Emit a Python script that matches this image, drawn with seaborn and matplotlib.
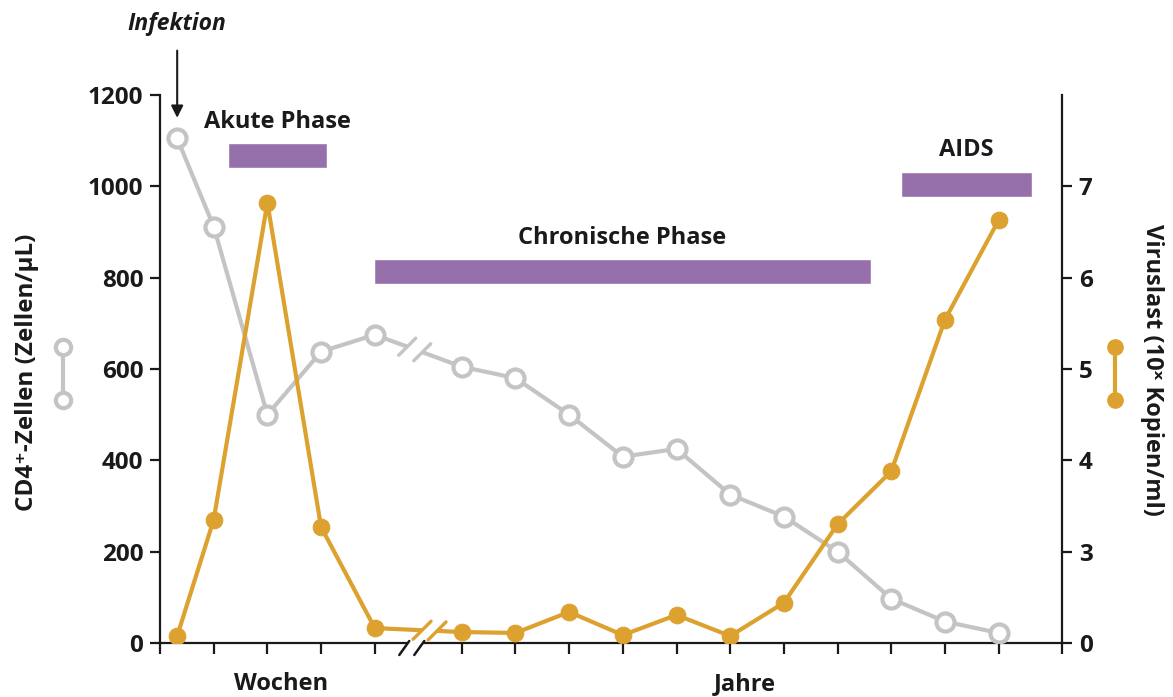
import matplotlib
matplotlib.use('Agg')
import matplotlib.pyplot as plt
import numpy as np
import pandas as pd
import seaborn as sns
from matplotlib.lines import Line2D
from matplotlib.transforms import IdentityTransform

# x slots: weeks (left of the break) and years (right of the break)
week_pos = [0.32, 1, 2, 3, 4]
year_pos = [5.62, 6.62, 7.62, 8.62, 9.62, 10.62, 11.62, 12.62, 13.62, 14.62, 15.62]
week_ticks = [0, 1, 2, 3, 4]
x_end = 16.8

cd4_weeks = [1105, 912, 500, 638, 675]
cd4_years = [605, 580, 500, 408, 425, 325, 277, 200, 97, 47, 22]

virus_weeks = [0.23, 3.35, 6.82, 3.27, 0.49]
virus_years = [0.36, 0.33, 1.02, 0.26, 0.92, 0.23, 1.32, 3.30, 3.88, 5.54, 6.63]

phase_names = ['Akute Phase', 'Chronische Phase', 'AIDS']
phase_start = [1.27, 3.99, 13.8]
phase_end = [3.11, 13.24, 16.24]
phase_level = [1067, 813, 1004]  # centre of bar, CD4 units

left_ticks = [0, 200, 400, 600, 800, 1000, 1200]
right_ticks = [0, 3, 4, 5, 6, 7]

gray = '#c4c4c4'
yellow = '#dca12e'
purple = '#9670aa'
ink = '#1a1a1a'

sns.set_theme(style='white')
plt.rcParams['font.family'] = ['Open Sans', 'DejaVu Sans']
plt.rcParams['font.weight'] = 'bold'

W, H = 1173, 697
fig = plt.figure(figsize=(W / 100, H / 100), dpi=100)
ax = fig.add_axes([160 / W, 1 - 643 / H, (1062 - 160) / W, (643 - 95) / H])
ax2 = ax.twinx()

df = pd.DataFrame({
    'x': week_pos + year_pos,
    'cd4': cd4_weeks + cd4_years,
    'virus': virus_weeks + virus_years,
})


# right axis: 0..3 squeezed into one step, then linear
def fwd(v):
    v = np.asarray(v, dtype=float)
    return np.where(v < 3, v / 3, v - 2)


def inv(t):
    t = np.asarray(t, dtype=float)
    return np.where(t < 1, t * 3, t + 2)


ax2.set_yscale('function', functions=(fwd, inv))

sns.lineplot(data=df, x='x', y='cd4', ax=ax, color=gray, linewidth=3,
             marker='o', markersize=13, markerfacecolor='white',
             markeredgecolor=gray, markeredgewidth=3, zorder=3)
sns.lineplot(data=df, x='x', y='virus', ax=ax2, color=yellow, linewidth=3,
             marker='o', markersize=12, markerfacecolor=yellow,
             markeredgecolor=yellow, zorder=3)

# phase bars
ax.barh(phase_level, np.array(phase_end) - np.array(phase_start), left=phase_start,
        height=55, color=purple, zorder=2)
for name, s, e, lvl in zip(phase_names, phase_start, phase_end, phase_level):
    ax.annotate(name, xy=((s + e) / 2, lvl + 27), xytext=(0, 7), textcoords='offset points',
                ha='center', va='bottom', fontsize=17, fontweight='bold', color=ink)

ax.annotate('Infektion', xy=(week_pos[0], 1150), xytext=(week_pos[0], 1355),
            ha='center', va='center', fontsize=16.5, fontstyle='italic', fontweight='bold',
            color=ink, annotation_clip=False,
            arrowprops=dict(arrowstyle='-|>', color=ink, lw=1.5, mutation_scale=18,
                            shrinkA=8, shrinkB=0))

ax.set_xlim(0, x_end)
ax.set_ylim(0, 1200)
ax2.set_ylim(0, 8)
ax.set_xticks(week_ticks + year_pos + [x_end])
ax.set_xticklabels([])
ax.set_yticks(left_ticks)
ax2.set_yticks(right_ticks)
ax2.set_yticklabels([str(t) for t in right_ticks])
ax.set_xlabel('')
ax.set_ylabel('')
ax2.set_ylabel('')

for a in (ax, ax2):
    for sp in a.spines.values():
        sp.set_color(ink)
        sp.set_linewidth(1.6)
    a.spines['top'].set_visible(False)
ax.spines['right'].set_visible(False)
ax2.spines['left'].set_visible(False)
ax2.spines['bottom'].set_visible(False)

ax.tick_params(axis='x', bottom=True, length=8, width=1.6, color=ink, direction='out')
ax.tick_params(axis='y', left=True, length=7, width=1.6, color=ink, direction='out',
               labelsize=17.5, labelcolor=ink, pad=5)
ax2.tick_params(axis='y', right=True, length=7, width=1.6, color=ink, direction='out',
                labelsize=17.5, labelcolor=ink, pad=5)
for lab in ax.get_yticklabels() + ax2.get_yticklabels():
    lab.set_fontweight('bold')

# axis labels
fig.text(27 / W, 1 - 372 / H, 'CD4⁺-Zellen (Zellen/µL)', rotation=90, ha='center', va='center',
         fontsize=17.5, fontweight='bold', color=ink)
fig.text(1152 / W, 1 - 370 / H, 'Viruslast (10ˣ Kopien/ml)', rotation=270, ha='center', va='center',
         fontsize=17, fontweight='bold', color=ink)
fig.text(281 / W, 1 - 684 / H, 'Wochen', ha='center', va='center', fontsize=17,
         fontweight='bold', color=ink)
fig.text(745 / W, 1 - 684 / H, 'Jahre', ha='center', va='center', fontsize=17,
         fontweight='bold', color=ink)

# legend glyphs next to the axis labels
fig.add_artist(Line2D([63 / W, 63 / W], [1 - 347 / H, 1 - 400 / H], color=gray, lw=3,
                      marker='o', markersize=11, markerfacecolor='white',
                      markeredgecolor=gray, markeredgewidth=3))
fig.add_artist(Line2D([1115 / W, 1115 / W], [1 - 347 / H, 1 - 400 / H], color=yellow, lw=3,
                      marker='o', markersize=11, markerfacecolor=yellow, markeredgecolor=yellow))


# break marks on the lines between the week and year parts
def cut(a, y0, y1, frac, color, half, gap=15):
    p0 = a.transData.transform((week_pos[-1], y0))
    p1 = a.transData.transform((year_pos[0], y1))
    d = p1 - p0
    c = p0 + d * frac
    u = d / d[0]
    pa, pb = c - u * gap / 2, c + u * gap / 2
    fig.add_artist(Line2D([pa[0], pb[0]], [pa[1], pb[1]], color='white', lw=5,
                          transform=IdentityTransform(), solid_capstyle='butt', zorder=5))
    for p in (pa, pb):
        fig.add_artist(Line2D([p[0] - half, p[0] + half], [p[1] - half, p[1] + half], color=color,
                              lw=2.4, transform=IdentityTransform(), zorder=6))


cut(ax, cd4_weeks[-1], cd4_years[0], 0.46, gray, 8.5)
cut(ax2, virus_weeks[-1], virus_years[0], 0.63, yellow, 9)

# break on the x axis
q0 = ax.transData.transform((week_pos[-1], 0))
q1 = ax.transData.transform((year_pos[0], 0))
qc = q0 + (q1 - q0) * 0.46
qa, qb = qc[0] - 7.5, qc[0] + 7.5
fig.add_artist(Line2D([qa, qb], [qc[1], qc[1]], color='white', lw=3,
                      transform=IdentityTransform(), solid_capstyle='butt', zorder=5))
for qx in (qa, qb):
    fig.add_artist(Line2D([qx - 8, qx + 2], [qc[1] - 12, qc[1] + 2], color=ink, lw=1.8,
                          transform=IdentityTransform(), zorder=6))

fig.savefig('out.png', dpi=100)
